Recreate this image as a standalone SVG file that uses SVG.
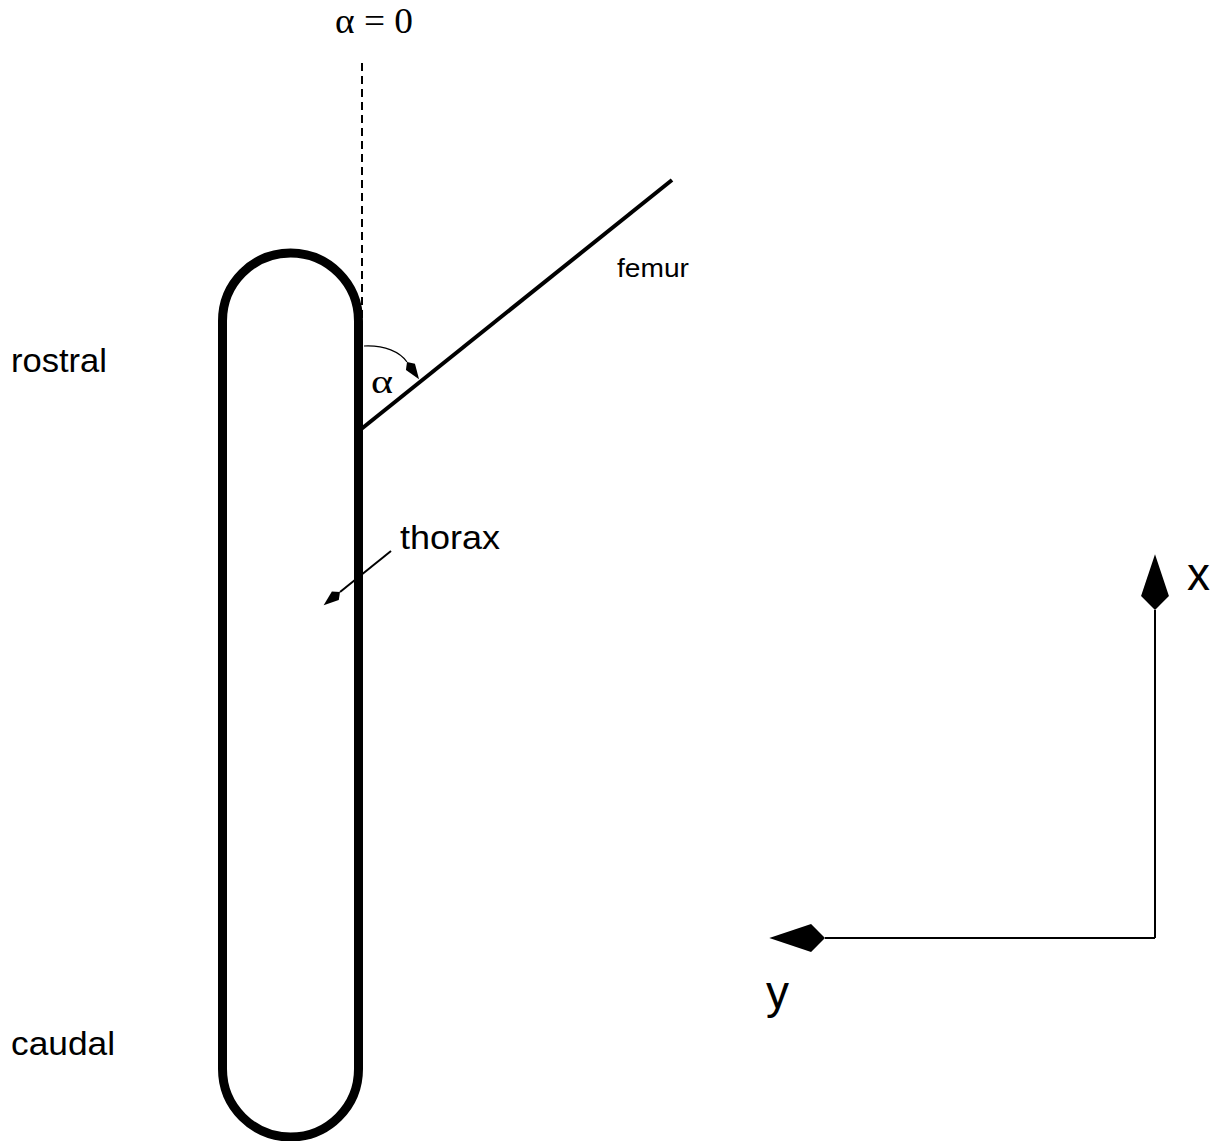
<svg xmlns="http://www.w3.org/2000/svg" width="1225" height="1141" viewBox="0 0 1225 1141">
<style>
.sans{font-family:"Liberation Sans",Arial,sans-serif;fill:#000}
.serif{font-family:"Liberation Serif","Times New Roman",serif;fill:#000}
.ln{fill:none;stroke:#000}
</style>
<defs>
<marker id="big" markerUnits="userSpaceOnUse" markerWidth="60" markerHeight="30" viewBox="0 -14 53 28" refX="0" refY="0" orient="auto" overflow="visible">
<path d="M52,0 L13,-13 L0,0 L13,13 Z" fill="#000"/>
</marker>
<marker id="small" markerUnits="userSpaceOnUse" markerWidth="24" markerHeight="14" viewBox="0 -7 23 14" refX="0" refY="0" orient="auto" overflow="visible">
<path d="M21,0 L6,-5.5 L0,0 L6,5.5 Z" fill="#000"/>
</marker>
</defs>
<rect width="1225" height="1141" fill="#fff"/>
<g id="thorax">
<path class="ln" stroke-width="9" d="M222.5,321 L222.5,1069 A68,68 0 0 0 358.5,1069 L358.5,321 A68,68 0 0 0 222.5,321 Z"/>
</g>
<g id="femur">
<line class="ln" stroke-width="4" x1="360" y1="430" x2="672" y2="180"/>
</g>
<g id="axes">
<path class="ln" stroke-width="2" d="M1155,938 L1155,610" marker-end="url(#big)"/>
<path class="ln" stroke-width="2" d="M1155,938 L825,938" marker-end="url(#big)"/>
</g>
<g id="connectors">
<line class="ln" stroke-width="2" stroke-dasharray="8,5" x1="362" y1="63" x2="362" y2="318"/>
<path class="ln" stroke-width="1.2" d="M364,346 C385,345 400,352 407,362" marker-end="url(#small)"/>
<path class="ln" stroke-width="2" d="M391,551 L340,592" marker-end="url(#small)"/>
</g>
<g id="labels">
<text class="serif" x="335" y="33" font-size="36" textLength="78" lengthAdjust="spacingAndGlyphs">α = 0</text>
<text class="serif" x="371" y="393" font-size="34" textLength="22" lengthAdjust="spacingAndGlyphs">α</text>
<text class="sans" x="617" y="277" font-size="26" textLength="72" lengthAdjust="spacingAndGlyphs">femur</text>
<text class="sans" x="400" y="549" font-size="34" textLength="100" lengthAdjust="spacingAndGlyphs">thorax</text>
<text class="sans" x="11" y="372" font-size="34" textLength="96" lengthAdjust="spacingAndGlyphs">rostral</text>
<text class="sans" x="11" y="1055" font-size="34" textLength="104" lengthAdjust="spacingAndGlyphs">caudal</text>
<text class="sans" x="1187" y="590" font-size="46">x</text>
<text class="sans" x="766" y="1008" font-size="46">y</text>
</g>
</svg>
